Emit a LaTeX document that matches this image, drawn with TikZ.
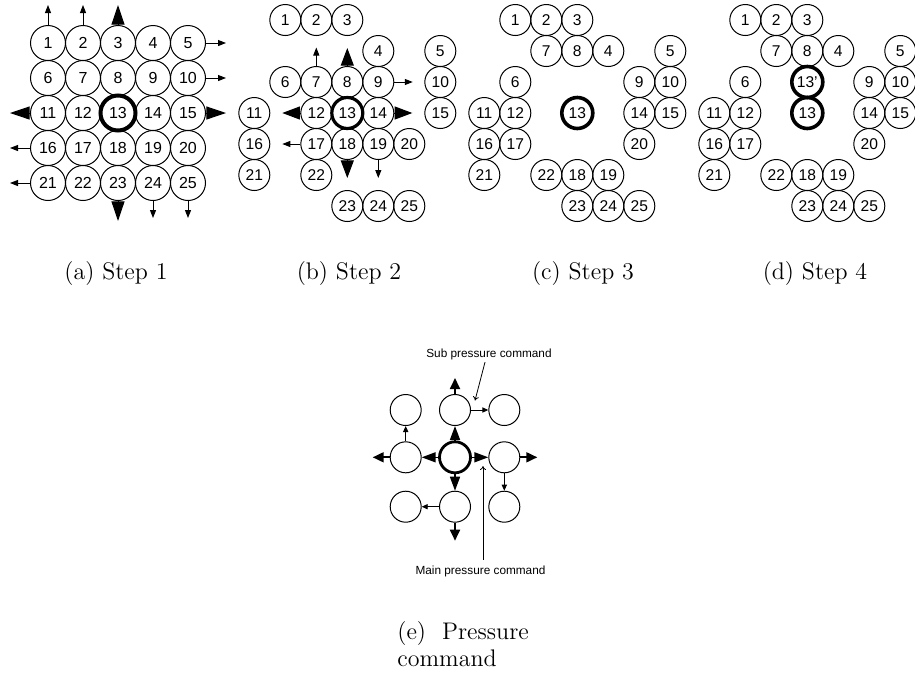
\documentclass[tikz,border=0pt]{standalone}
\usepackage{fontspec}
\newfontfamily\numfont{Liberation Sans}
\usetikzlibrary{arrows.meta}
\begin{document}
\begin{tikzpicture}[x=0.5pt,y=-0.5pt,
  cA/.style={circle,draw,line width=0.5pt,minimum size=17.5pt,inner sep=0pt,font=\numfont\fontsize{8}{9}\selectfont},
  cB/.style={circle,draw,line width=0.5pt,minimum size=15.5pt,inner sep=0pt,font=\numfont\fontsize{7.8}{9}\selectfont},
  cE/.style={circle,draw,line width=0.5pt,minimum size=15.5pt,inner sep=0pt},
  smallarr/.style={line width=0.5pt,-{Triangle[length=4pt,width=3pt]}},
  smallE/.style={line width=0.45pt,-{Triangle[length=3pt,width=2.6pt]}},
  bigtriA/.style={line width=0.5pt,-{Triangle[length=9.8pt,width=6.5pt]}},
  bigtriB/.style={line width=0.5pt,-{Triangle[length=8.8pt,width=6.5pt]}},
  midtri/.style={line width=0.8pt,-{Triangle[length=7pt,width=5pt]}},
  bigE/.style={line width=0.9pt,-{Triangle[length=5.5pt,width=5pt]}},
  leader/.style={line width=0.4pt,-{To[length=2pt,width=3pt]}},
  lab/.style={font=\numfont\fontsize{5.9}{7}\selectfont,inner sep=1pt},
  captext/.style={font=\fontsize{12}{14}\selectfont,inner sep=0pt}]
\useasboundingbox (0,0) rectangle (915,676);

% ---------------- (a) Step 1
\foreach \n in {1,...,12,14,15,...,25}{
  \pgfmathtruncatemacro\c{mod(\n-1,5)}
  \pgfmathtruncatemacro\r{div(\n-1,5)}
  \node[cA] (a\n) at ({48+35*\c},{43+35*\r}) {\n};
}
\node[cA,line width=2pt] (a13) at (118,113) {13};
\draw[smallarr] (a1.north) -- ++(0,-20);
\draw[smallarr] (a2.north) -- ++(0,-20);
\draw[bigtriA] (a3.north) -- ++(0,-20);
\draw[smallarr] (a5.east) -- ++(20,0);
\draw[smallarr] (a10.east) -- ++(20,0);
\draw[bigtriA] (a11.west) -- ++(-20,0);
\draw[bigtriA] (a15.east) -- ++(20,0);
\draw[smallarr] (a16.west) -- ++(-20,0);
\draw[smallarr] (a21.west) -- ++(-20,0);
\draw[bigtriA] (a23.south) -- ++(0,20);
\draw[smallarr] (a24.south) -- ++(0,17);
\draw[smallarr] (a25.south) -- ++(0,17);

% ---------------- (b) Step 2
\foreach \n/\c/\r in {1/1/0,2/2/0,3/3/0,4/4/1,5/6/1,6/1/2,7/2/2,8/3/2,9/4/2,10/6/2,
  11/0/3,12/2/3,14/4/3,15/6/3,16/0/4,17/2/4,18/3/4,19/4/4,20/5/4,21/0/5,22/2/5,
  23/3/6,24/4/6,25/5/6}{
  \node[cB] (b\n) at ({254.3+31*\c},{20+31*\r}) {\n};
}
\node[cB,line width=1.6pt] (b13) at ({254.3+31*3},{20+31*3}) {13};
\draw[smallarr] (b7.north) -- ++(0,-18.5);
\draw[bigtriB] (b8.north) -- ++(0,-18);
\draw[smallarr] (b9.east) -- ++(18.5,0);
\draw[bigtriB] (b12.west) -- ++(-18,0);
\draw[bigtriB] (b14.east) -- ++(18,0);
\draw[smallarr] (b17.west) -- ++(-18,0);
\draw[bigtriB] (b18.south) -- ++(0,18);
\draw[smallarr] (b19.south) -- ++(0,18);

% ---------------- (c) Step 3
\foreach \n/\c/\r in {1/1/0,2/2/0,3/3/0,7/2/1,8/3/1,4/4/1,5/6/1,6/1/2,9/5/2,10/6/2,
  11/0/3,12/1/3,14/5/3,15/6/3,16/0/4,17/1/4,20/5/4,21/0/5,22/2/5,18/3/5,19/4/5,
  23/3/6,24/4/6,25/5/6}{
  \node[cB] (c\n) at ({484.3+31*\c},{20+31*\r}) {\n};
}
\node[cB,line width=1.8pt] (c13) at ({484.3+31*3},{20+31*3}) {13};

% ---------------- (d) Step 4
\foreach \n/\c/\r in {1/1/0,2/2/0,3/3/0,7/2/1,8/3/1,4/4/1,5/6/1,6/1/2,9/5/2,10/6/2,
  11/0/3,12/1/3,14/5/3,15/6/3,16/0/4,17/1/4,20/5/4,21/0/5,22/2/5,18/3/5,19/4/5,
  23/3/6,24/4/6,25/5/6}{
  \node[cB] (d\n) at ({714.3+31*\c},{20+31*\r}) {\n};
}
\node[cB,line width=1.8pt] (d13p) at ({714.3+31*3},{20+31*2}) {13’};
\node[cB,line width=1.8pt] (d13) at ({714.3+31*3},{20+31*3}) {13};

% ---------------- captions
\node[captext,anchor=base] (capa) at (116,279) {(a) Step 1};
\node[captext,anchor=base] (capb) at (349,279) {(b) Step 2};
\node[captext,anchor=base] (capc) at (583,279) {(c) Step 3};
\node[captext,anchor=base] (capd) at (815,279) {(d) Step 4};

% ---------------- (e) Pressure command
\node[cE] (eTL) at (405.7,410) {};
\node[cE] (eTM) at (455,410) {};
\node[cE] (eTR) at (504.3,410) {};
\node[cE] (eML) at (405.7,457.3) {};
\node[cE,line width=1.4pt] (eC) at (455,457.3) {};
\node[cE] (eMR) at (504.3,457.3) {};
\node[cE] (eBL) at (405.7,506.7) {};
\node[cE] (eBM) at (455,506.7) {};
\node[cE] (eBR) at (504.3,506.7) {};

\draw[bigE] (eTM.north) -- ++(0,-16);
\draw[smallE] (eTM.east) -- (eTR.west);
\draw[smallE] (eML.north) -- (eTL.south);
\draw[midtri] (eC.north) -- (eTM.south);
\draw[midtri] (eC.west) -- (eML.east);
\draw[midtri] (eC.east) -- (eMR.west);
\draw[midtri] (eC.south) -- (eBM.north);
\draw[bigE] (eML.west) -- ++(-17,0);
\draw[bigE] (eMR.east) -- ++(17,0);
\draw[smallE] (eMR.south) -- (eBR.north);
\draw[smallE] (eBM.west) -- (eBL.east);
\draw[bigE] (eBM.south) -- ++(0,18);

\node[lab,anchor=base] (subl) at (489,357.3) {Sub pressure command};
\coordinate (subtip) at (475,400.5);
\draw[leader] ([xshift=-2pt]subl.south) -- (subtip);

\node[lab,anchor=base] (mainl) at (480.5,574.7) {Main pressure command};
\coordinate (maintip) at (483,466);
\draw[leader,shorten <=2pt] (maintip |- mainl.north) -- (maintip);

\node[captext,anchor=base west] (cape1) at (397,639) {(e)\hspace{8pt}Pressure};
\node[captext,anchor=base west] (cape2) at (397,666.5) {command};
\end{tikzpicture}
\end{document}
